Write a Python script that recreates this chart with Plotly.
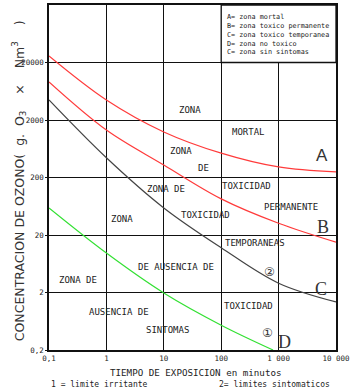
import plotly.graph_objects as go

# ---- data (minutes vs g O3 / Nm3) ----
t_A = [0.1, 1, 10, 100, 1000, 10000]
c_A = [26000, 4460, 1240, 530, 305, 250]

t_B = [0.1, 1, 10, 100, 1000, 10000]
c_B = [9200, 1340, 330, 85, 32, 15]

t_2 = [0.1, 1, 10, 100, 1000, 10000]
c_2 = [4460, 440, 59, 12, 2.9, 1.37]

t_1 = [0.1, 1, 10, 100, 800]
c_1 = [59, 9.7, 1.96, 0.54, 0.2]

x_ticks = [0.1, 1, 10, 100, 1000, 10000]
x_ticktext = ["0,1", "1", "10", "100", "1 000", "10 000"]
y_ticks = [0.2, 2, 20, 200, 2000, 20000]
y_ticktext = ["0,2", "2", "20", "200", "2000", "20000"]

# zone labels: text, log10(x), log10(y), kind
labels = [
    ("ZONA", 1.456, 3.475, "s"),
    ("MORTAL", 2.467, 3.092, "s"),
    ("A", 3.756, 2.692, "a"),
    ("ZONA", 1.300, 2.762, "s"),
    ("DE", 1.683, 2.466, "s"),
    ("ZONA DE", 1.038, 2.101, "s"),
    ("TOXICIDAD", 2.449, 2.153, "s"),
    ("TOXICIDAD", 1.735, 1.649, "s"),
    ("PERMANENTE", 3.216, 1.788, "s"),
    ("B", 3.774, 1.440, "b"),
    ("ZONA", 0.272, 1.579, "s"),
    ("TEMPORANEAS", 2.589, 1.162, "s"),
    ("DE AUSENCIA DE", 1.213, 0.745, "s"),
    ("\u2461", 2.833, 0.658, "c"),
    ("C", 3.739, 0.362, "b"),
    ("ZONA DE", -0.495, 0.518, "s"),
    ("AUSENCIA DE", 0.220, -0.038, "s"),
    ("TOXICIDAD", 2.467, 0.066, "s"),
    ("SINTOMAS", 1.056, -0.351, "s"),
    ("\u2460", 2.815, -0.403, "c"),
    ("D", 3.111, -0.560, "b"),
]

legend_lines = [
    "A= zona mortal",
    "B= zona toxico permanente",
    "C= zona toxico temporanea",
    "D= zona no toxico",
    "C= zona sin sintomas",
]

fig = go.Figure()
fig.add_trace(go.Scatter(x=t_A, y=c_A, mode="lines", line=dict(color="#ff3b3b", width=1.2, shape="spline"), showlegend=False))
fig.add_trace(go.Scatter(x=t_B, y=c_B, mode="lines", line=dict(color="#ff3b3b", width=1.2, shape="spline"), showlegend=False))
fig.add_trace(go.Scatter(x=t_2, y=c_2, mode="lines", line=dict(color="#444444", width=1.2, shape="spline"), showlegend=False))
fig.add_trace(go.Scatter(x=t_1, y=c_1, mode="lines", line=dict(color="#33e033", width=1.2, shape="spline"), showlegend=False))

# legend box (top right cell) covers the 1000 gridline there
fig.add_shape(type="rect", xref="x", yref="y", x0=100, x1=10000, y0=20000, y1=200000,
              fillcolor="white", line=dict(color="#111", width=1.3), layer="above")

mono = "DejaVu Sans Mono"
for txt, lx, ly, kind in labels:
    if kind == "s":
        f = dict(family=mono, size=9, color="#222")
    elif kind == "b":
        f = dict(family="Liberation Serif", size=18, color="#333")
    elif kind == "a":
        f = dict(family="Liberation Sans", size=17, color="#333")
    else:
        f = dict(family="DejaVu Sans", size=12, color="#333")
    fig.add_annotation(x=lx, y=ly, xref="x", yref="y", text=txt, showarrow=False,
                       font=f, xanchor="center", yanchor="middle")

fig.add_annotation(x=2.066, y=5.20, xref="x", yref="y", text="<br>".join(legend_lines),
                   showarrow=False, align="left", xanchor="left", yanchor="top",
                   font=dict(family=mono, size=6.8, color="#222"))

# axis titles and notes
fig.add_annotation(x=-0.142, y=0.49, xref="paper", yref="paper", textangle=-90,
                   text="CONCENTRACION DE OZONO(\u00a0\u00a0g.\u00a0\u00a0O<sub>3</sub>\u00a0\u00a0\u00a0\u00a0\u00d7\u00a0\u00a0\u00a0\u00a0Nm<sup>3</sup>\u00a0\u00a0\u00a0\u00a0)",
                   showarrow=False, font=dict(family="DejaVu Sans", size=12.5, color="#333"))
fig.add_annotation(x=0.512, y=-0.064, xref="paper", yref="paper",
                   text="TIEMPO DE EXPOSICION en minutos", showarrow=False,
                   font=dict(family=mono, size=9.2, color="#222"), yanchor="middle")
fig.add_annotation(x=0.0, y=-0.099, xref="paper", yref="paper",
                   text="1 = limite irritante", showarrow=False, xanchor="left", yanchor="middle",
                   font=dict(family=mono, size=8, color="#222"))
fig.add_annotation(x=0.585, y=-0.099, xref="paper", yref="paper",
                   text="2= limites sintomaticos", showarrow=False, xanchor="left", yanchor="middle",
                   font=dict(family=mono, size=8, color="#222"))

fig.update_xaxes(type="log", range=[-1, 4], tickvals=x_ticks, ticktext=x_ticktext,
                 showgrid=True, gridcolor="#111", gridwidth=1.2, zeroline=False,
                 showline=True, linecolor="#111", linewidth=1.5, mirror=True,
                 ticks="", tickfont=dict(family=mono, size=7.5, color="#222"),
                 automargin=False)
fig.update_yaxes(type="log", range=[-0.69897, 5.30103], tickvals=y_ticks, ticktext=y_ticktext,
                 showgrid=True, gridcolor="#111", gridwidth=1.2, zeroline=False,
                 showline=True, linecolor="#111", linewidth=1.5, mirror=True,
                 ticks="outside", ticklen=2, tickcolor="#111",
                 tickfont=dict(family=mono, size=7.5, color="#222"),
                 automargin=False)

fig.update_layout(width=353, height=389, margin=dict(l=49, r=17, t=5, b=39),
                  paper_bgcolor="white", plot_bgcolor="white", showlegend=False)

fig.write_html("out.html", config={"displayModeBar": False},
               post_script="document.body.style.margin='0px';document.body.style.overflow='hidden';")
